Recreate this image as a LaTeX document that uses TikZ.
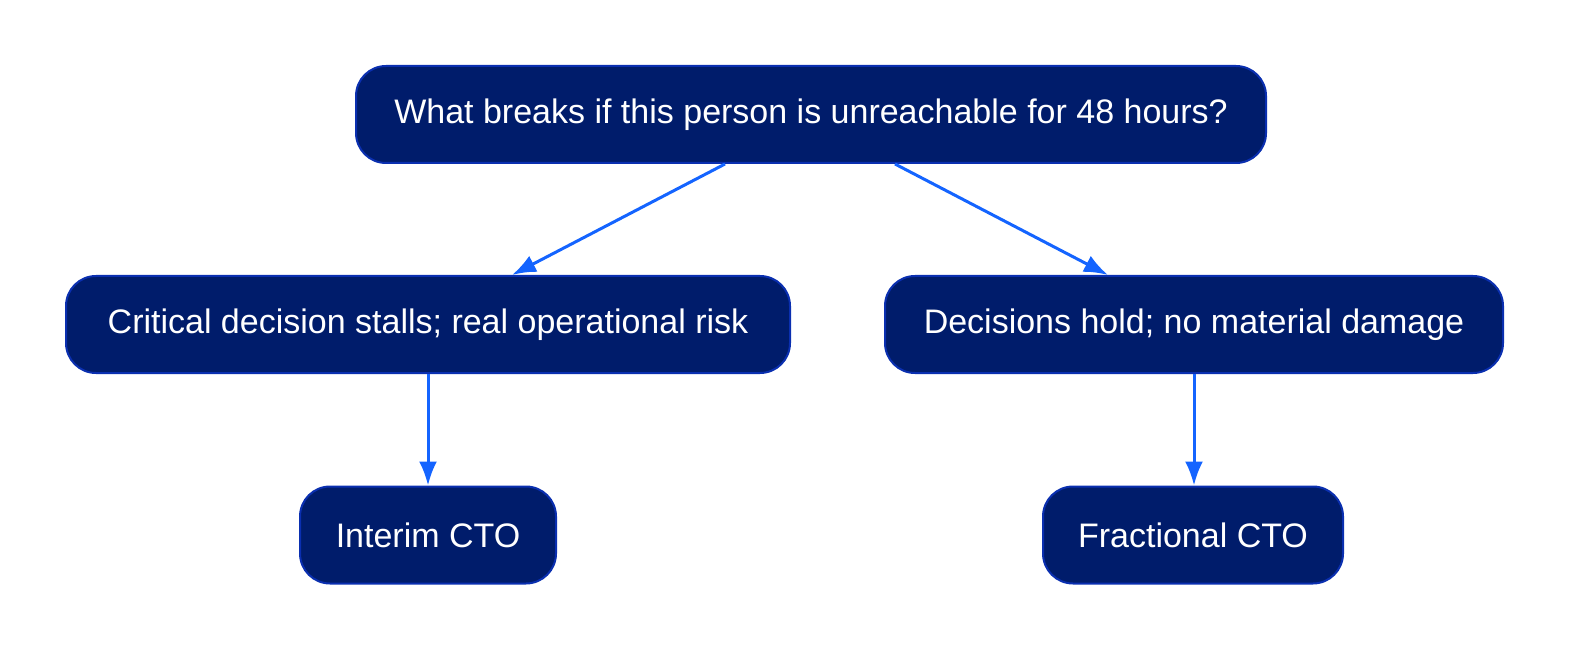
\documentclass[tikz,border=0pt]{standalone}
\usepackage{fontspec}
\setmainfont{Liberation Sans}
\usetikzlibrary{arrows.meta,positioning,calc}
\definecolor{navyfill}{HTML}{001C6B}
\definecolor{navyline}{HTML}{0A2FB0}
\definecolor{linkblue}{HTML}{1464FF}

\begin{document}
\begin{tikzpicture}[
  font=\fontsize{17pt}{20pt}\selectfont,
  >=Latex,
  arrow/.style={-{Latex[length=12pt,width=9pt]}, draw=linkblue, line width=1.5pt},
  qbox/.style={draw=navyline, fill=navyfill, text=white, line width=1pt,
    rounded corners=15pt, minimum height=48.5pt, inner sep=0pt, align=center}
]
\useasboundingbox (0,0) rectangle (787pt,-326pt);

% Question
\node[qbox, minimum width=455pt] (question) at (405.5pt,-57.25pt)
  {What breaks if this person is unreachable for 48 hours?};

% Two outcomes
\node[qbox, minimum width=362pt] (stalls) at (214pt,-162.25pt)
  {Critical decision stalls; real operational risk};
\node[qbox, minimum width=309pt] (holds) at (597pt,-162.25pt)
  {Decisions hold; no material damage};

% Recommendations
\node[qbox, minimum width=128pt] (interim) at (214pt,-267.5pt) {Interim CTO};
\node[qbox, minimum width=150pt] (fractional) at (596.5pt,-267.5pt) {Fractional CTO};

% Arrows
\draw[arrow] ([xshift=-43pt]question.south) -- ([xshift=42pt]stalls.north);
\draw[arrow] ([xshift=42pt]question.south) -- ([xshift=-43pt]holds.north);

\draw[arrow] (stalls.south) -- (interim.north);
\draw[arrow] (holds.south) -- (holds.south |- fractional.north);

\end{tikzpicture}
\end{document}
